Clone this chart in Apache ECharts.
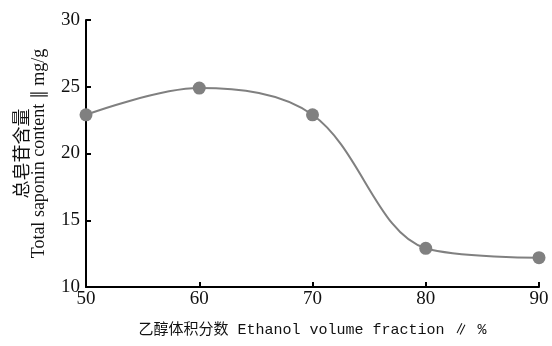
<!DOCTYPE html>
<html>
<head>
<meta charset="utf-8">
<script src="https://cdn.jsdelivr.net/npm/echarts@6/dist/echarts.min.js"></script>
<style>html,body{margin:0;padding:0;background:#fff;}#c{width:552px;height:346px;}</style>
</head>
<body>
<div id="c"></div>
<script>
const ethanolFraction = [50, 60, 70, 80, 90];
const saponinContent = [22.9, 24.9, 22.9, 12.9, 12.2];
const xTicks = [50, 60, 70, 80, 90];
const yTicks = [10, 15, 20, 25, 30];

const chart = echarts.init(document.getElementById('c'), null, {renderer: 'canvas'});
chart.setOption({
  animation: false,
  backgroundColor: '#fff',
  grid: {left: 86, right: 13, top: 20, bottom: 59},
  xAxis: {
    type: 'value', min: 50, max: 90, interval: 10,
    axisLine: {show: true, lineStyle: {color: '#000', width: 2}},
    axisTick: {show: true, inside: true, length: 5, lineStyle: {color: '#000', width: 2}},
    splitLine: {show: false},
    axisLabel: {color: '#111', fontFamily: 'Liberation Serif', fontSize: 19, margin: 3},
    name: '乙醇体积分数 Ethanol volume fraction ∥ %',
    nameLocation: 'middle', nameGap: 36,
    nameTextStyle: {color: '#111', fontFamily: 'Liberation Mono, Noto Sans CJK SC', fontSize: 15}
  },
  yAxis: {
    type: 'value', min: 10, max: 30, interval: 5,
    axisLine: {show: true, lineStyle: {color: '#000', width: 2}},
    axisTick: {show: true, inside: true, length: 5, lineStyle: {color: '#000', width: 2}},
    splitLine: {show: false},
    axisLabel: {color: '#111', fontFamily: 'Liberation Serif', fontSize: 19, margin: 6},
    name: '{cn|总皂苷含量}\n{en|Total saponin content ∥ mg/g}',
    nameLocation: 'middle', nameGap: 38, nameRotate: 90,
    nameTextStyle: {
      color: '#111',
      rich: {
        cn: {fontFamily: 'Noto Sans CJK SC', fontSize: 18, lineHeight: 18, color: '#111'},
        en: {fontFamily: 'Liberation Serif', fontSize: 18, lineHeight: 18, color: '#111'}
      }
    }
  },
  series: [{
    type: 'line',
    data: ethanolFraction.map((x, i) => [x, saponinContent[i]]),
    smooth: 0.35,
    symbol: 'circle', symbolSize: 13,
    itemStyle: {color: '#808080'},
    lineStyle: {color: '#808080', width: 2}
  }]
});
</script>
</body>
</html>
